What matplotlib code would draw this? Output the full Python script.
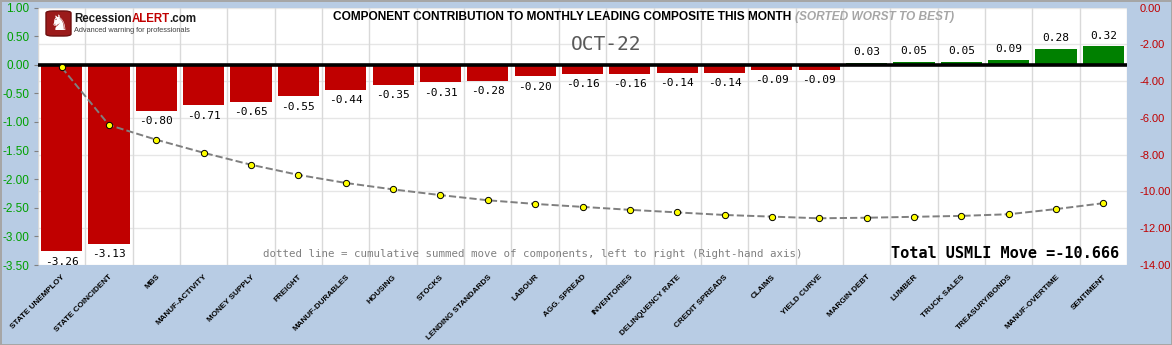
import matplotlib.pyplot as plt
from matplotlib.patches import FancyBboxPatch
import numpy as np

# component contributions this month (sorted worst to best)
components = ['STATE UNEMPLOY', 'STATE COINCIDENT', 'MBS', 'MANUF-ACTIVITY', 'MONEY SUPPLY',
              'FREIGHT', 'MANUF-DURABLES', 'HOUSING', 'STOCKS', 'LENDING STANDARDS', 'LABOUR',
              'AGG. SPREAD', 'INVENTORIES', 'DELINQUENCY RATE', 'CREDIT SPREADS', 'CLAIMS',
              'YIELD CURVE', 'MARGIN DEBT', 'LUMBER', 'TRUCK SALES', 'TREASURY/BONDS',
              'MANUF-OVERTIME', 'SENTIMENT']
contrib = [-3.26, -3.13, -0.80, -0.71, -0.65, -0.55, -0.44, -0.35, -0.31, -0.28, -0.20,
           -0.16, -0.16, -0.14, -0.14, -0.09, -0.09, 0.03, 0.05, 0.05, 0.09, 0.28, 0.32]
month_label = 'OCT-22'
total_move = -10.666

left_ticks = np.arange(-3.5, 1.01, 0.5)
right_ticks = np.arange(-14, 0.1, 2)

BG = '#B8CCE4'
RED = '#C00000'
GREEN = '#008000'
SANS = 'Liberation Sans'
MONO = 'DejaVu Sans Mono'
W, H = 1172, 345


def fit_width(txt, width_px):
    # shrink/grow the font so the text spans about width_px
    fig.canvas.draw()
    w = txt.get_window_extent().width
    txt.set_fontsize(txt.get_fontsize() * width_px / w)


def right_of(txt):
    fig.canvas.draw()
    return txt.get_window_extent().x1 / W


fig = plt.figure(figsize=(11.72, 3.45), dpi=100, facecolor=BG)

rect = [38 / W, 1 - 265 / H, (1127 - 38) / W, (265 - 7.5) / H]

# bottom layer: white plot area + horizontal grid (right-axis ticks)
axg = fig.add_axes(rect, zorder=0)
axg.set_facecolor('white')
axg.set_ylim(-14, 0)
axg.set_yticks(right_ticks)
axg.yaxis.tick_right()
axg.set_yticklabels(['%.2f' % t for t in right_ticks], family=SANS)
axg.tick_params(axis='y', colors=RED, labelsize=8, length=0, pad=9)
axg.set_xticks([])
axg.grid(axis='y', color='#E6E6E6', linewidth=1)
for s in axg.spines.values():
    s.set_visible(False)

# middle layer: bars on left axis
ax = fig.add_axes(rect, zorder=1)
ax.patch.set_visible(False)
x = np.arange(len(components))
colors = [RED if v < 0 else GREEN for v in contrib]
bars = ax.bar(x, contrib, width=0.87, color=colors, zorder=2)
ax.bar_label(bars, labels=['%.2f' % v for v in contrib], padding=4,
             fontsize=8, family=MONO, color='black')
ax.axhline(0, color='black', linewidth=2.6, zorder=3)
ax.set_xlim(-0.5, len(components) - 0.5)
ax.set_ylim(-3.5, 1.0)
ax.set_yticks(left_ticks)
ax.set_yticklabels(['%.2f' % t for t in left_ticks], family=SANS)
ax.tick_params(axis='y', colors='#808080', labelcolor='#00A000', labelsize=8.5,
               length=3, width=0.8, pad=3)
ax.set_xticks(x)
ax.set_xticklabels(components, rotation=45, ha='right', rotation_mode='anchor',
                   fontsize=5.9, family=SANS, fontweight='bold')
ax.tick_params(axis='x', length=0, pad=6)
ax.set_xticks(np.arange(-0.5, len(components), 1), minor=True)
ax.tick_params(axis='x', which='minor', length=0)
ax.grid(axis='x', which='minor', color='#D9D9D9', linewidth=1)
ax.set_axisbelow(True)
for s in ax.spines.values():
    s.set_visible(False)

# top layer: cumulative line on right axis
ax3 = fig.add_axes(rect, zorder=2)
ax3.patch.set_visible(False)
ax3.set_xlim(ax.get_xlim())
ax3.set_ylim(-14, 0)
ax3.plot(x, np.cumsum(contrib), linestyle='--', color='#7F7F7F', linewidth=1.4,
         marker='o', markersize=4.5, markerfacecolor='#FFFF00',
         markeredgecolor='black', markeredgewidth=0.7)
ax3.set_xticks([])
ax3.set_yticks([])
for s in ax3.spines.values():
    s.set_visible(False)

# title
t1 = fig.text(333 / W, 1 - 17 / H, 'COMPONENT CONTRIBUTION TO MONTHLY LEADING COMPOSITE THIS MONTH',
              family=SANS, fontweight='bold', fontsize=10, va='center', ha='left', zorder=6)
fit_width(t1, 457)
fig.text(right_of(t1) + 4 / W, 1 - 17 / H, '(SORTED WORST TO BEST)', family=SANS,
         fontweight='bold', style='italic', fontsize=t1.get_fontsize(), color='#A6A6A6',
         va='center', ha='left', zorder=6)

fig.text(606 / W, 1 - 45 / H, month_label, family=MONO, fontsize=14,
         color='#595959', ha='center', va='center', zorder=6)

# logo
icon = FancyBboxPatch((46 / W, 1 - 36 / H), 25 / W, 25 / H,
                      boxstyle='round,pad=0,rounding_size=0.006', transform=fig.transFigure,
                      facecolor='#9B1B1B', edgecolor='#6E1010', zorder=5)
fig.patches.append(icon)
fig.text(58.5 / W, 1 - 24 / H, '\u265e', color='white', fontsize=15, ha='center',
         va='center', zorder=6)
lt = fig.text(74 / W, 1 - 19 / H, 'RecessionALERT.com', family=SANS, fontsize=12,
              fontweight='bold', color='none', va='center', ha='left', zorder=6)
fit_width(lt, 121)
fs = lt.get_fontsize()
lt.set_visible(False)
p1 = fig.text(74 / W, 1 - 19 / H, 'Recession', family=SANS, fontsize=fs,
              fontweight='bold', color='#1A1A1A', va='center', ha='left', zorder=6)
p2 = fig.text(right_of(p1), 1 - 19 / H, 'ALERT', family=SANS, fontsize=fs,
              fontweight='bold', color=RED, va='center', ha='left', zorder=6)
fig.text(right_of(p2), 1 - 19 / H, '.com', family=SANS, fontsize=fs,
         fontweight='bold', color='#1A1A1A', va='center', ha='left', zorder=6)
sub = fig.text(74 / W, 1 - 31 / H, 'Advanced warning for professionals', family=SANS,
               fontsize=6.5, color='#404040', va='center', ha='left', zorder=6)
fit_width(sub, 116)

# footnotes
fn = fig.text(263 / W, 1 - 254 / H,
              'dotted line = cumulative summed move of components, left to right (Right-hand axis)',
              family=MONO, fontsize=8, color='#808080', va='center', ha='left', zorder=6)
fit_width(fn, 545)
fig.text(1119 / W, 1 - 254 / H, 'Total USMLI Move =%.3f' % total_move,
         family=MONO, fontweight='bold', fontsize=11, color='black',
         va='center', ha='right', zorder=6)

fig.patch.set_edgecolor('#A6A6A6')
fig.patch.set_linewidth(1.0)
fig.savefig('out.png', dpi=100, facecolor=BG, edgecolor='#A6A6A6')
